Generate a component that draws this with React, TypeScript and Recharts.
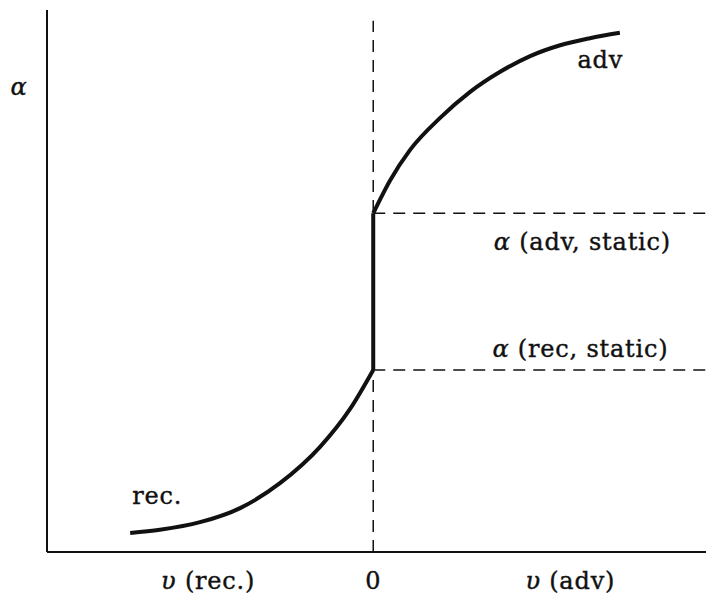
import { ComposedChart, Line, XAxis, YAxis, ReferenceLine, ReferenceDot } from 'recharts';

// contact angle vs. contact-line velocity (receding < 0 < advancing)
const recV = [-7.45, -6.54, -5.31, -4.08, -2.86, -1.63, -0.71, 0];
const recAlpha = [0.35, 0.41, 0.55, 0.81, 1.27, 1.94, 2.64, 3.36];
const advV = [0, 0.52, 1.13, 2.05, 2.97, 3.89, 4.81, 5.73, 6.64, 7.56];
const advAlpha = [6.25, 6.86, 7.42, 8.01, 8.49, 8.86, 9.15, 9.35, 9.48, 9.58];
const alphaRecStatic = 3.36;
const alphaAdvStatic = 6.25;

const xTicks = [-5.06, 0, 6.04];
const xTickLabels = [['υ', ' (rec.)'], ['', '0'], ['υ', ' (adv)']];

const recData = recV.map((v, i) => ({ v, a: recAlpha[i] }));
const advData = advV.map((v, i) => ({ v, a: advAlpha[i] }));
const jumpData = [
  { v: 0, a: alphaRecStatic },
  { v: 0, a: alphaAdvStatic },
];

const FONT = "'DejaVu Serif', 'Liberation Serif', serif";
const SIZE = 24;

// italic symbol followed by upright text
function MathText({ x, y, sym, rest }: { x: number; y: number; sym: string; rest: string }) {
  return (
    <text
      x={x}
      y={y}
      textAnchor="middle"
      dominantBaseline="central"
      style={{ fontFamily: FONT, fontSize: SIZE, fill: '#111', stroke: '#111', strokeWidth: 0.4, letterSpacing: 0.8 }}
    >
      {sym && <tspan style={{ fontStyle: 'italic' }}>{sym}</tspan>}
      {rest}
    </text>
  );
}

const XTick = (props: any) => {
  const i = xTicks.indexOf(props.payload.value);
  const [sym, rest] = xTickLabels[i] || ['', ''];
  return <MathText x={props.x} y={props.y + 21} sym={sym} rest={rest} />;
};

const YTick = (props: any) => <MathText x={19} y={props.y} sym="α" rest="" />;

const textDot = (sym: string, rest: string) => (p: any) => <MathText x={p.cx} y={p.cy} sym={sym} rest={rest} />;

export default function App() {
  return (
    <div style={{ position: 'absolute', left: 0, top: 0, background: '#fff' }}>
      <ComposedChart width={706} height={597} margin={{ top: 10, right: 0, left: 0, bottom: 0 }}>
        <XAxis
          dataKey="v"
          type="number"
          domain={[-10, 10.2]}
          allowDataOverflow
          ticks={xTicks}
          interval={0}
          tick={<XTick />}
          tickLine={false}
          axisLine={{ stroke: '#111', strokeWidth: 2 }}
          height={45}
        />
        <YAxis
          type="number"
          domain={[0, 10]}
          allowDataOverflow
          ticks={[8.58]}
          tick={<YTick />}
          tickLine={false}
          axisLine={{ stroke: '#111', strokeWidth: 2 }}
          width={47}
        />
        <ReferenceLine segment={[{ x: 0, y: 0 }, { x: 0, y: 9.8 }]} stroke="#111" strokeWidth={1.5} strokeDasharray="12 8" />
        <ReferenceLine segment={[{ x: 0, y: alphaAdvStatic }, { x: 10.2, y: alphaAdvStatic }]} stroke="#111" strokeWidth={1.5} strokeDasharray="12 8" />
        <ReferenceLine segment={[{ x: 0, y: alphaRecStatic }, { x: 10.2, y: alphaRecStatic }]} stroke="#111" strokeWidth={1.5} strokeDasharray="12 8" />
        <Line data={recData} dataKey="a" type="monotone" stroke="#111" strokeWidth={4} dot={false} isAnimationActive={false} />
        <Line data={jumpData} dataKey="a" type="linear" stroke="#111" strokeWidth={4} dot={false} isAnimationActive={false} />
        <Line data={advData} dataKey="a" type="monotone" stroke="#111" strokeWidth={4} dot={false} isAnimationActive={false} />
        <ReferenceDot x={6.41} y={5.72} r={0} shape={textDot('α', ' (adv, static)')} />
        <ReferenceDot x={6.35} y={3.75} r={0} shape={textDot('α', ' (rec, static)')} />
        <ReferenceDot x={-6.62} y={1.04} r={0} shape={textDot('', 'rec.')} />
        <ReferenceDot x={6.96} y={9.07} r={0} shape={textDot('', 'adv')} />
      </ComposedChart>
    </div>
  );
}
